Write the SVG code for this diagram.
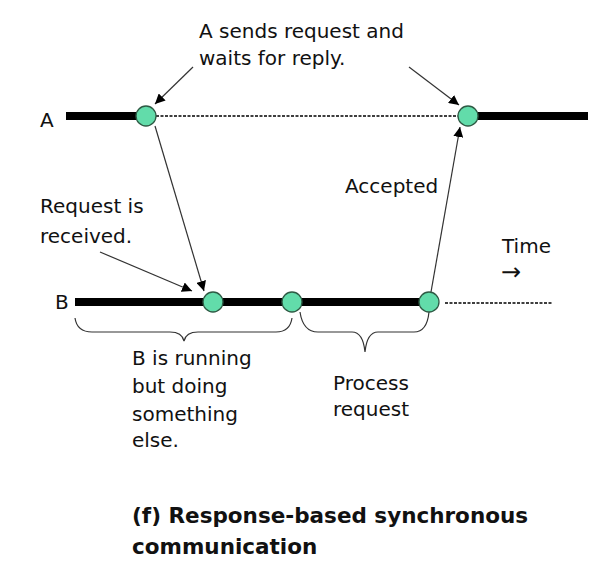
<svg xmlns="http://www.w3.org/2000/svg" width="606" height="576" viewBox="0 0 606 576">
<defs>
<marker id="ah" viewBox="0 0 10 10" refX="10" refY="5" markerWidth="10" markerHeight="10" markerUnits="userSpaceOnUse" orient="auto">
<path d="M0,0 L10,5 L0,10 z" fill="#000"/>
</marker>
</defs>
<style>
text{font-family:"DejaVu Sans","Liberation Sans",sans-serif;font-size:20px;fill:#111}
.title{font-weight:bold;font-size:21.5px}
.thick{stroke:#000;stroke-width:8;fill:none}
.dot{stroke:#000;stroke-width:1.7;stroke-dasharray:3 1.5;fill:none}
.arr{stroke:#333;stroke-width:1.2;fill:none;marker-end:url(#ah)}
.brace{stroke:#333;stroke-width:1.2;fill:none}
.ev{fill:#62dcaa;stroke:#2e5a44;stroke-width:1.3}
</style>
<rect width="606" height="576" fill="#fff"/>
<g id="timelineA">
<text x="40" y="127">A</text>
<line class="thick" x1="66" y1="116" x2="146" y2="116"/>
<line class="dot" x1="156" y1="116" x2="458" y2="116"/>
<line class="thick" x1="470" y1="116" x2="588" y2="116"/>
</g>
<g id="timelineB">
<text x="55" y="309">B</text>
<line class="thick" x1="75" y1="302" x2="429" y2="302"/>
<line class="dot" x1="445" y1="303" x2="553" y2="303"/>
</g>
<g id="connectors">
<line class="arr" x1="193" y1="67" x2="155" y2="104"/>
<line class="arr" x1="409" y1="67" x2="459" y2="105"/>
<line class="arr" x1="155" y1="126" x2="204" y2="291"/>
<line class="arr" x1="100" y1="252" x2="192" y2="291"/>
<line class="arr" x1="431" y1="292" x2="460" y2="127"/>
<path class="brace" d="M75,318 Q77,332 92,332 L170,332 Q182,332 184,341 Q186,332 198,332 L276,332 Q290,332 292,318"/>
<path class="brace" d="M300,312 Q303,332 318,332 L352,332 Q363,332 365,352 Q367,332 378,332 L414,332 Q427,332 429,312"/>
</g>
<g id="eventA1"><circle class="ev" cx="146" cy="116" r="10"/></g>
<g id="eventA2"><circle class="ev" cx="468" cy="116" r="10"/></g>
<g id="eventB1"><circle class="ev" cx="213" cy="302" r="10"/></g>
<g id="eventB2"><circle class="ev" cx="292" cy="302" r="10"/></g>
<g id="eventB3"><circle class="ev" cx="429" cy="302" r="10"/></g>
<g id="labels">
<text x="199" y="38">A sends request and</text>
<text x="199" y="65">waits for reply.</text>
<text x="40" y="213">Request is</text>
<text x="40" y="243">received.</text>
<text x="345" y="193">Accepted</text>
<text x="502" y="253">Time</text>
<text x="501" y="280" style="font-size:24px">→</text>
<text x="132" y="365">B is running</text>
<text x="132" y="393">but doing</text>
<text x="132" y="421">something</text>
<text x="132" y="447">else.</text>
<text x="333" y="390">Process</text>
<text x="333" y="416">request</text>
<text class="title" x="132" y="523">(f) Response-based synchronous</text>
<text class="title" x="132" y="554">communication</text>
</g>
</svg>
